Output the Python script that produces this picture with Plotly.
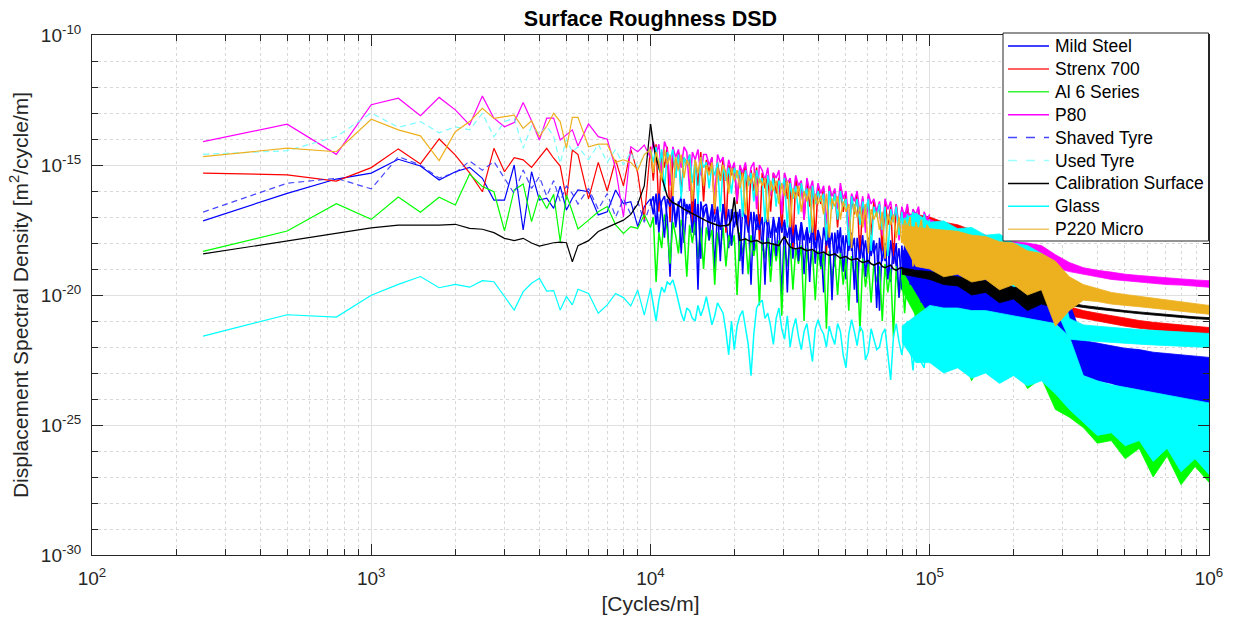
import plotly.graph_objects as go

# ---------------- data: DSD given as log10 values (m^2/cycle/m) ----------------
# low-frequency part (individual spectral lines are readable)
freq_low = [250, 500, 750, 1000, 1250, 1500, 1750, 2000, 2250, 2500, 2750, 3000, 3250, 3500,
            3750, 4000, 4250, 4500, 4750, 5000, 5250, 5500, 6000, 6500, 7000, 7500, 8000,
            8500, 9000, 9500, 10000]
# mid part (1e4 .. 1e5), noisy spectral lines
freq_mid = [10000, 10233, 10471, 10715, 10965, 11220, 11482, 11749, 12023, 12303,
            12589, 12882, 13183, 13490, 13804, 14125, 14454, 14791, 15136, 15488,
            15849, 16218, 16596, 16982, 17378, 17783, 18197, 18621, 19055, 19498,
            19953, 20417, 20893, 21380, 21878, 22387, 22909, 23442, 23988, 24547,
            25119, 25704, 26303, 26915, 27542, 28184, 28840, 29512, 30200, 30903,
            31623, 32359, 33113, 33884, 34674, 35481, 36308, 37154, 38019, 38905,
            39811, 40738, 41687, 42658, 43652, 44668, 45709, 46774, 47863, 48978,
            50119, 51286, 52481, 53703, 54954, 56234, 57544, 58884, 60256, 61660,
            63096, 64565, 66069, 67608, 69183, 70795, 72444, 74131, 75858, 77625,
            79433, 81283, 83176, 85114, 87096, 89125, 91201, 93325, 95499, 97724, 100000]
# dense part (8e4 .. 1e6): upper / lower envelope of the filled band
freq_band = [79433, 89125, 100000, 112202, 125893, 141254, 158489, 177828, 199526, 223872, 251189,
             281838, 316228, 354813, 398107, 446684, 501187, 562341, 630957, 707946, 794328,
             891251, 1000000]

mild_low = [-17.15, -16.09, -15.54, -15.31, -14.78, -15.04, -15.58, -15.26, -15.09, -15.51, -16.35,
            -16.35, -15.0, -17.5, -15.26, -16.35, -16.28, -16.67, -15.81, -16.73, -16.28, -15.96,
            -16.03, -16.92, -16.8, -15.96, -16.48, -16.41, -17.37, -16.6, -16.3]
mild_mid = [-16.3, -16.9, -16.1, -17.6, -16.4, -16.2, -17.0, -19.3, -16.3, -17.4,
            -16.6, -16.2, -18.0, -16.5, -16.9, -16.3, -17.7, -16.4, -18.6, -16.6,
            -16.5, -17.2, -16.6, -19.0, -16.7, -17.5, -16.5, -17.0, -18.2, -16.7,
            -17.4, -16.8, -18.7, -16.7, -17.1, -16.9, -19.6, -16.8, -17.5, -16.9,
            -18.3, -17.0, -17.4, -18.9, -17.0, -17.6, -17.1, -20.1, -17.2, -17.8,
            -17.2, -18.6, -17.3, -17.9, -17.2, -19.2, -17.4, -18.0, -17.3, -18.8,
            -17.5, -17.9, -19.9, -17.4, -18.2, -17.6, -18.9, -17.5, -18.4, -17.7,
            -19.4, -17.6, -18.3, -17.8, -20.3, -17.7, -18.6, -17.9, -19.1, -17.8,
            -18.4, -18.0, -20.6, -17.9, -18.7, -18.1, -19.5, -18.0, -18.9, -18.2,
            -19.8, -18.1, -18.6, -18.3, -20.2, -18.2, -19.0, -18.4, -19.6, -18.3, -18.3]
mild_hi = [-18.3, -18.25, -18.3, -18.55, -18.5, -18.85, -18.8, -19.15, -19.1, -19.55, -19.5, -19.95,
           -20.4, -21.85, -21.95, -22.05, -22.15, -22.2, -22.3, -22.37, -22.44, -22.5, -22.55]
mild_lo = [-18.9, -19.8, -20.3, -21.0, -20.6, -21.4, -22.6, -21.3, -21.9, -21.5, -22.2, -21.9, -22.8,
           -23.1, -23.3, -23.4, -23.6, -23.7, -23.85, -23.95, -24.05, -24.15, -24.25]

strenx_low = [-15.31, -15.38, -15.62, -15.1, -14.38, -14.96, -14.0, -14.62, -15.3, -16.03, -14.36,
              -15.26, -14.72, -14.8, -15.09, -14.7, -14.36, -14.74, -15.04, -16.32, -14.42, -14.6,
              -16.3, -14.9, -16.0, -14.8, -15.8, -14.4, -15.3, -17.1, -14.3]
strenx_mid = [-14.3, -15.6, -14.2, -16.8, -14.5, -15.1, -14.3, -17.2, -14.6, -15.5,
              -14.5, -16.1, -14.7, -15.0, -14.6, -17.3, -14.8, -15.8, -14.5, -16.4,
              -14.8, -15.3, -14.7, -16.9, -14.9, -15.6, -14.8, -17.6, -15.0, -15.4,
              -15.0, -16.5, -15.1, -15.5, -15.0, -17.4, -15.2, -16.0, -15.1, -17.9,
              -15.3, -15.9, -15.4, -16.8, -15.3, -16.1, -15.5, -17.6, -15.4, -16.3,
              -15.6, -18.2, -15.5, -16.2, -15.7, -17.1, -15.6, -16.6, -15.8, -17.9,
              -15.8, -16.5, -15.9, -18.4, -15.8, -16.7, -16.0, -17.4, -15.9, -16.8,
              -16.1, -18.1, -16.2, -16.9, -16.1, -18.6, -16.3, -17.2, -16.2, -17.7,
              -16.4, -16.9, -16.5, -18.3, -16.4, -17.3, -16.6, -18.8, -16.5, -17.4,
              -16.7, -17.9, -16.6, -17.2, -16.8, -18.4, -16.7, -17.5, -16.9, -18.0, -17.0]
strenx_hi = [-17.0, -16.9, -17.0, -17.2, -17.3, -17.5, -17.7, -17.9, -18.1, -18.3, -18.6, -19.0,
             -20.45, -20.6, -20.7, -20.8, -20.9, -20.98, -21.05, -21.1, -21.15, -21.2, -21.25]
strenx_lo = [-17.6, -18.3, -18.8, -18.8, -19.2, -19.1, -19.6, -19.5, -20.3, -20.0, -20.6, -20.4,
             -20.8, -20.9, -21.0, -21.1, -21.2, -21.28, -21.35, -21.42, -21.48, -21.52, -21.58]

al_low = [-18.32, -17.54, -16.49, -17.09, -16.23, -16.82, -16.24, -16.54, -15.35, -15.83, -16.03,
          -17.53, -15.96, -15.73, -17.18, -16.15, -16.67, -16.13, -17.95, -16.15, -16.8, -17.46,
          -17.12, -16.8, -16.6, -17.3, -17.63, -17.37, -17.44, -16.9, -17.4]
al_mid = [-17.4, -17.0, -19.5, -17.6, -18.2, -16.9, -17.5, -18.8, -17.2, -17.7,
          -18.4, -17.1, -17.6, -19.3, -17.3, -18.0, -17.2, -18.6, -17.4, -19.0,
          -17.4, -17.9, -17.5, -19.6, -17.6, -18.3, -17.4, -18.9, -17.7, -18.1,
          -17.7, -20.0, -17.6, -18.4, -17.8, -19.2, -17.7, -18.5, -17.9, -20.4,
          -17.9, -18.6, -17.8, -19.5, -18.0, -18.7, -17.9, -20.8, -18.1, -18.9,
          -18.0, -19.8, -18.2, -18.8, -18.1, -21.0, -18.2, -19.1, -18.3, -20.2,
          -18.3, -19.0, -18.4, -21.3, -18.3, -19.4, -18.5, -20.0, -18.4, -19.6,
          -18.6, -20.6, -18.5, -19.3, -18.7, -21.4, -18.6, -19.7, -18.8, -20.3,
          -18.8, -19.5, -18.9, -21.0, -18.8, -19.9, -19.0, -21.6, -18.9, -20.1,
          -19.0, -20.7, -19.1, -19.6, -19.0, -21.2, -19.2, -20.0, -19.1, -21.5, -19.2]
al_hi = [-19.2, -19.2, -19.3, -19.5, -19.6, -19.8, -20.0, -20.2, -20.4, -20.6, -20.9, -21.2, -21.8,
         -23.2, -23.4, -23.55, -23.65, -23.75, -23.85, -23.95, -24.05, -24.15, -24.25]
al_lo = [-19.8, -20.8, -21.6, -21.2, -22.0, -23.3, -22.3, -23.0, -22.6, -23.6, -23.2, -24.4, -24.7,
         -25.1, -25.7, -25.6, -26.3, -25.9, -27.0, -26.2, -27.3, -26.6, -27.2]

p80_low = [-14.10, -13.43, -14.59, -12.68, -12.43, -13.10, -12.40, -12.88, -13.46, -12.35, -13.2,
           -13.53, -13.37, -12.60, -13.3, -14.04, -13.2, -13.2, -14.04, -13.85, -13.65, -14.27,
           -13.42, -13.91, -14.01, -15.13, -17.0, -14.30, -14.49, -14.23, -14.74]
p80_mid = [-14.74, -14.1, -14.6, -14.2, -15.3, -14.1, -14.4, -15.8, -14.3, -14.7,
           -14.4, -15.1, -14.3, -14.5, -16.0, -14.5, -14.8, -14.4, -15.4, -14.6,
           -14.6, -15.0, -14.7, -16.3, -14.6, -14.9, -14.7, -15.6, -14.8, -15.2,
           -14.9, -16.4, -15.0, -15.3, -14.9, -15.8, -15.1, -14.9, -16.7, -15.0,
           -15.2, -15.6, -15.1, -16.2, -15.3, -15.5, -15.2, -16.9, -15.3, -15.7,
           -15.5, -16.3, -15.4, -15.8, -15.6, -17.1, -15.5, -16.0, -15.6, -16.5,
           -15.7, -16.1, -15.8, -17.3, -15.8, -16.2, -15.9, -16.7, -15.7, -16.3,
           -16.0, -17.4, -16.1, -16.4, -16.0, -16.9, -16.2, -17.6, -16.1, -16.5,
           -16.3, -16.8, -16.4, -17.7, -16.3, -16.7, -16.4, -17.2, -16.5, -17.9,
           -16.6, -17.0, -16.5, -17.5, -16.7, -16.9, -16.6, -18.0, -16.8, -17.1, -16.9]
p80_hi = [-16.8, -16.95, -17.1, -17.3, -17.45, -17.6, -17.75, -17.85, -17.95, -18.0, -18.1, -18.45,
          -18.75, -18.95, -19.05, -19.12, -19.2, -19.25, -19.3, -19.35, -19.38, -19.42, -19.45]
p80_lo = [-17.4, -18.0, -18.4, -18.4, -18.5, -18.55, -18.6, -18.6, -18.65, -18.7, -18.75, -18.95,
          -19.1, -19.2, -19.3, -19.4, -19.45, -19.5, -19.55, -19.6, -19.62, -19.65, -19.7]

shaved_low = [-16.81, -15.70, -15.51, -15.92, -14.68, -15.0, -15.5, -15.3, -14.85, -15.2, -14.87,
              -15.5, -16.1, -15.19, -15.9, -15.45, -16.2, -15.6, -16.4, -15.8, -16.1, -16.5, -15.9,
              -16.7, -16.1, -17.0, -16.3, -16.9, -16.4, -17.2, -16.5]
shaved_mid = [-16.5, -16.2, -17.3, -16.1, -16.7, -17.8, -16.3, -16.6, -16.2, -17.1,
              -16.4, -18.4, -16.3, -16.9, -16.5, -17.6, -16.3, -19.8, -16.4, -17.0,
              -16.6, -17.9, -16.5, -17.2, -16.6, -18.7, -16.5, -17.4, -16.7, -18.1,
              -16.8, -17.3, -16.7, -19.2, -16.9, -17.6, -16.8, -18.3, -16.9, -17.5,
              -17.0, -19.6, -16.9, -17.8, -17.1, -18.5, -17.0, -17.6, -17.1, -19.9,
              -17.2, -18.0, -17.3, -18.7, -17.2, -17.9, -17.4, -19.5, -17.3, -18.2,
              -17.5, -18.9, -17.4, -18.1, -17.5, -20.2, -17.6, -18.4, -17.4, -19.1,
              -17.7, -18.3, -17.6, -19.8, -17.8, -18.6, -17.7, -19.3, -17.8, -18.5,
              -17.9, -20.5, -17.8, -18.7, -18.0, -19.4, -17.9, -18.8, -18.0, -20.1,
              -18.1, -18.9, -18.2, -19.6, -18.1, -19.0, -18.3, -20.3, -18.2, -19.2, -18.3]
shaved_hi = [-18.4, -18.35, -18.4, -18.55, -18.7, -18.85, -19.0, -19.15, -19.3, -19.55, -19.7,
             -19.95, -20.3, -21.75, -21.85, -21.95, -22.05, -22.1, -22.2, -22.25, -22.3, -22.35,
             -22.4]
shaved_lo = [-19.0, -19.9, -20.8, -20.5, -21.2, -20.9, -21.5, -21.2, -21.8, -21.5, -22.1, -21.9,
             -22.3, -22.5, -22.6, -22.7, -22.75, -22.8, -22.85, -22.9, -22.95, -23.0, -23.05]

used_low = [-14.59, -14.45, -13.91, -13.0, -13.55, -13.33, -13.76, -13.53, -13.65, -13.01, -13.91,
            -13.33, -13.2, -14.36, -13.5, -13.8, -13.5, -13.9, -14.94, -14.0, -14.5, -14.3, -14.8,
            -14.2, -14.9, -14.4, -15.0, -14.5, -15.1, -14.6, -14.4]
used_mid = [-14.4, -14.9, -14.3, -15.2, -14.4, -16.0, -14.5, -14.8, -14.4, -15.5,
            -14.6, -16.3, -14.7, -15.0, -14.6, -15.7, -14.8, -16.5, -14.7, -15.1,
            -14.9, -15.9, -15.0, -15.4, -14.9, -16.8, -15.0, -15.6, -15.1, -16.1,
            -15.1, -15.5, -15.2, -17.0, -15.2, -15.8, -15.3, -16.4, -15.2, -15.7,
            -15.5, -17.2, -15.4, -16.0, -15.5, -16.6, -15.6, -15.9, -15.5, -17.4,
            -15.7, -16.3, -15.8, -16.9, -15.7, -16.2, -15.9, -17.6, -15.8, -16.5,
            -16.0, -16.4, -16.1, -17.9, -16.0, -16.7, -16.1, -17.1, -16.0, -16.6,
            -16.3, -18.1, -16.2, -16.8, -16.3, -17.3, -16.4, -16.9, -16.3, -18.3,
            -16.6, -17.0, -16.5, -17.5, -16.6, -18.5, -16.7, -17.2, -16.6, -17.7,
            -16.8, -18.0, -16.9, -17.3, -16.8, -17.8, -17.0, -18.4, -16.9, -17.4, -17.1]
used_hi = [-17.1, -16.85, -17.2, -17.15, -17.45, -17.4, -17.7, -17.65, -18.0, -18.1, -18.4, -18.8,
           -20.9, -21.15, -21.2, -21.25, -21.3, -21.33, -21.36, -21.39, -21.42, -21.45, -21.48]
used_lo = [-17.6, -18.3, -18.7, -18.6, -19.0, -18.9, -19.3, -19.2, -19.7, -19.6, -20.2, -20.5, -21.7,
           -21.75, -21.8, -21.83, -21.86, -21.89, -21.92, -21.95, -21.97, -22.0, -22.02]

calib_low = [-18.42, -17.91, -17.63, -17.42, -17.31, -17.31, -17.31, -17.28, -17.44, -17.47, -17.6,
             -17.82, -17.91, -17.82, -18.0, -18.12, -18.04, -17.99, -17.97, -17.99, -18.72, -18.1,
             -17.91, -17.56, -17.4, -17.24, -17.12, -16.9, -16.5, -15.8, -13.43]
calib_mid = [-13.43, -14.2, -14.7, -15.1, -15.5, -15.9, -16.2, -16.35, -16.45, -16.5,
             -16.55, -16.62, -16.7, -16.76, -16.82, -16.88, -16.94, -17.0, -17.05, -17.1,
             -17.15, -17.2, -17.25, -17.3, -17.32, -17.35, -17.35, -17.33, -17.3, -17.1,
             -16.24, -17.3, -17.9, -17.88, -17.85, -17.9, -17.95, -17.92, -17.9, -17.96,
             -18.02, -18.0, -17.98, -18.02, -18.05, -18.08, -18.1, -17.9, -17.75, -18.0,
             -18.15, -18.2, -18.22, -18.2, -18.18, -18.25, -18.3, -18.27, -18.25, -18.33,
             -18.4, -18.38, -18.35, -18.42, -18.48, -18.45, -18.42, -18.5, -18.58, -18.55,
             -18.52, -18.6, -18.65, -18.62, -18.6, -18.7, -18.75, -18.72, -18.68, -18.8,
             -18.85, -18.8, -18.75, -18.9, -18.95, -18.9, -18.85, -19.0, -19.05, -18.98,
             -18.95, -19.1, -19.15, -19.08, -19.05, -19.2, -19.25, -19.15, -19.1, -19.25, -19.3]
calib_hi = [-18.95, -19.05, -19.1, -19.2, -19.3, -19.4, -19.45, -19.55, -19.7, -19.75, -19.8, -20.0,
            -20.3, -20.4, -20.47, -20.53, -20.6, -20.65, -20.7, -20.75, -20.8, -20.84, -20.87]
calib_lo = [-19.2, -19.3, -19.4, -19.6, -19.65, -20.0, -19.9, -20.3, -20.15, -20.6, -20.35, -20.5,
            -20.4, -20.48, -20.55, -20.6, -20.67, -20.72, -20.77, -20.82, -20.87, -20.91, -20.94]

glass_low = [-21.58, -20.76, -20.85, -20.01, -19.59, -19.29, -19.72, -19.59, -19.70, -19.45, -19.49,
             -20.06, -20.58, -19.87, -19.55, -19.36, -19.85, -19.83, -20.58, -20.06, -20.38, -19.78,
             -19.94, -20.7, -20.38, -19.94, -20.1, -20.42, -19.81, -20.77, -19.74]
glass_mid = [-19.74, -20.4, -21.0, -20.2, -19.7, -19.9, -19.5, -19.6, -19.42, -19.8,
             -20.3, -20.7, -21.0, -20.5, -20.6, -20.9, -21.0, -20.4, -20.8, -20.5,
             -20.06, -20.6, -21.15, -20.8, -20.3, -20.5, -20.7, -21.4, -22.3, -21.0,
             -22.1, -21.2, -20.8, -20.6, -21.3, -21.9, -23.1, -21.5, -20.5, -20.3,
             -20.2, -20.9, -20.7, -21.2, -21.9, -20.9, -20.5, -21.3, -21.7, -20.8,
             -22.0, -21.3, -20.9, -21.6, -22.1, -21.4, -21.1, -21.8, -22.56, -21.3,
             -20.95, -21.3, -21.5, -22.0, -21.2, -21.6, -21.9, -21.1, -21.4, -22.3,
             -22.8, -21.5, -20.95, -21.4, -21.95, -21.2, -21.4, -22.5, -22.2, -21.3,
             -21.7, -22.1, -22.0, -21.5, -21.3, -22.4, -23.27, -21.6, -21.1, -21.8,
             -22.3, -21.5, -21.0, -21.9, -22.9, -21.4, -21.7, -22.6, -22.8, -21.6, -21.0]
glass_hi = [-21.2, -20.8, -20.4, -20.5, -20.5, -20.6, -20.6, -20.7, -20.8, -20.9, -21.0, -21.1, -21.6,
            -23.1, -23.3, -23.45, -23.55, -23.65, -23.75, -23.85, -23.95, -24.05, -24.15]
glass_lo = [-21.8, -22.6, -22.6, -23.0, -22.8, -23.2, -23.0, -23.4, -23.1, -23.5, -23.3, -23.8, -24.4,
            -24.9, -25.4, -25.3, -25.8, -25.6, -26.4, -25.9, -26.8, -26.3, -26.9]

p220_low = [-14.68, -14.35, -14.49, -13.24, -13.65, -13.88, -14.83, -13.72, -13.33, -12.82, -13.21,
            -13.14, -13.08, -13.59, -13.3, -13.91, -13.5, -13.01, -13.33, -14.36, -13.17, -13.17,
            -14.3, -14.2, -14.2, -14.9, -14.8, -14.9, -15.2, -14.6, -14.4]
p220_mid = [-14.4, -15.3, -14.5, -14.9, -15.6, -14.4, -15.0, -14.6, -16.2, -14.7,
            -15.2, -14.6, -15.5, -14.8, -15.1, -16.4, -14.8, -15.3, -14.7, -15.8,
            -15.0, -15.4, -14.9, -16.7, -15.1, -15.6, -15.0, -15.3, -16.1, -15.1,
            -15.6, -15.2, -15.9, -15.3, -16.9, -15.4, -15.7, -15.3, -16.2, -15.5,
            -15.8, -15.5, -17.2, -15.6, -16.0, -15.6, -16.5, -15.7, -16.2, -15.6,
            -17.4, -15.9, -16.3, -15.8, -16.8, -16.0, -16.4, -15.9, -17.6, -16.1,
            -16.5, -16.2, -16.9, -16.1, -17.8, -16.3, -16.6, -16.2, -17.1, -16.4,
            -16.8, -16.5, -18.2, -16.5, -17.0, -16.6, -17.4, -16.5, -18.4, -16.7,
            -17.1, -16.8, -17.5, -16.8, -18.6, -16.9, -17.3, -16.9, -17.8, -17.0,
            -18.0, -17.1, -17.4, -17.0, -18.9, -17.2, -17.6, -17.1, -18.2, -17.3, -17.5]
p220_hi = [-17.3, -17.4, -17.45, -17.5, -17.55, -17.7, -17.75, -17.95, -18.0, -18.3, -18.4, -18.7,
           -19.3, -19.6, -19.75, -19.9, -19.98, -20.05, -20.12, -20.2, -20.27, -20.33, -20.4]
p220_lo = [-17.9, -18.9, -19.0, -19.3, -19.2, -19.5, -19.4, -19.8, -19.6, -20.0, -19.8, -21.2,
           -20.6, -20.2, -20.25, -20.35, -20.4, -20.45, -20.5, -20.55, -20.62, -20.68, -20.74]

names = ["Mild Steel", "Strenx 700", "Al 6 Series", "P80", "Shaved Tyre", "Used Tyre",
         "Calibration Surface", "Glass", "P220 Micro"]

# ---------------- styles: (low line colour, dense colour, legend colour, dash) ----------------
styles = {
    "Mild Steel": ("#0000FF", "#0000FF", "#0000FF", "solid"),
    "Strenx 700": ("#FF0000", "#FF0000", "#FF2B2B", "solid"),
    "Al 6 Series": ("#00FF00", "#00FF00", "#35F535", "solid"),
    "P80": ("#FF00FF", "#FF00FF", "#FF00FF", "solid"),
    "Shaved Tyre": ("rgba(40,40,255,0.85)", "#0000FF", "#4646FF", "6px,4px"),
    "Used Tyre": ("rgba(110,255,255,0.9)", "#00FFFF", "#9CFFFF", "6px,4px"),
    "Calibration Surface": ("#000000", "#000000", "#000000", "solid"),
    "Glass": ("#00FFFF", "#00FFFF", "#00FFFF", "solid"),
    "P220 Micro": ("#EDB120", "#EDB120", "#F0C66A", "solid"),
}
data = {
    "Mild Steel": (mild_low, mild_mid, mild_hi, mild_lo),
    "Strenx 700": (strenx_low, strenx_mid, strenx_hi, strenx_lo),
    "Al 6 Series": (al_low, al_mid, al_hi, al_lo),
    "P80": (p80_low, p80_mid, p80_hi, p80_lo),
    "Shaved Tyre": (shaved_low, shaved_mid, shaved_hi, shaved_lo),
    "Used Tyre": (used_low, used_mid, used_hi, used_lo),
    "Calibration Surface": (calib_low, calib_mid, calib_hi, calib_lo),
    "Glass": (glass_low, glass_mid, glass_hi, glass_lo),
    "P220 Micro": (p220_low, p220_mid, p220_hi, p220_lo),
}

FONT = "Liberation Sans, Arial, Helvetica, sans-serif"
AX = "#262626"
W, H = 1233, 624
ML, MR, MT, MB = 92, 24, 35, 69
PW, PH = W - ML - MR, H - MT - MB


def p2x(px):
    return (px - ML) / PW


def p2y(py):
    return (H - MB - py) / PH


fig = go.Figure()
for name in names:
    lcol, fcol, _, dash = styles[name]
    low, mid, hi, lo = data[name]
    fig.add_trace(go.Scatter(x=freq_low, y=[10 ** v for v in low], mode="lines", name=name,
                             line=dict(color=lcol, width=1.2, dash=dash), showlegend=False,
                             hoverinfo="skip"))
    fig.add_trace(go.Scatter(x=freq_band + freq_band[::-1],
                             y=[10 ** v for v in hi] + [10 ** v for v in lo[::-1]],
                             mode="lines", fill="toself", fillcolor=fcol, name=name,
                             line=dict(color=fcol, width=0.8), showlegend=False,
                             hoverinfo="skip"))
    fig.add_trace(go.Scatter(x=freq_mid, y=[10 ** v for v in mid], mode="lines", name=name,
                             line=dict(color=fcol, width=1.5), showlegend=False,
                             hoverinfo="skip"))

# ---------------- legend box (drawn like the MATLAB legend) ----------------
shapes = [dict(type="rect", xref="paper", yref="paper", x0=p2x(1003), x1=p2x(1208.5),
               y0=p2y(241), y1=p2y(33), line=dict(color=AX, width=1), fillcolor="white",
               layer="above")]
annotations = []
for i, name in enumerate(names):
    yc = 46 + 22.9 * i
    _, _, legcol, dash = styles[name]
    shapes.append(dict(type="line", xref="paper", yref="paper", x0=p2x(1008), x1=p2x(1049),
                       y0=p2y(yc), y1=p2y(yc), line=dict(color=legcol, width=1.5,
                       dash="dash" if dash != "solid" else "solid"), layer="above"))
    annotations.append(dict(text=name, xref="paper", yref="paper", x=p2x(1053), y=p2y(yc),
                            xanchor="left", yanchor="middle", showarrow=False,
                            font=dict(family=FONT, size=17.5, color="#000000")))

x_major = [1e2, 1e3, 1e4, 1e5, 1e6]
x_text = ["10<sup>%d</sup>" % e for e in range(2, 7)]
x_minor = [m * 10 ** e for e in range(2, 6) for m in range(2, 10)]
y_major = [10.0 ** e for e in (-30, -25, -20, -15, -10)]
y_text = ["10<sup>%d</sup>" % e for e in (-30, -25, -20, -15, -10)]
y_minor = [10.0 ** e for e in range(-29, -10) if e % 5 != 0]

fig.update_layout(
    width=W, height=H,
    margin=dict(l=ML, r=MR, t=MT, b=MB),
    paper_bgcolor="white", plot_bgcolor="white",
    font=dict(family=FONT, color=AX, size=19),
    hovermode=False, showlegend=False,
    shapes=shapes, annotations=annotations,
    title=dict(text="<b>Surface Roughness DSD</b>", x=0.5, xref="paper", xanchor="center",
               y=1 - 18 / H, yref="container", yanchor="middle",
               font=dict(family=FONT, size=21.5, color="#000000")),
)
fig.update_xaxes(
    type="log", range=[2, 6], showline=True, linecolor=AX, linewidth=1, mirror="allticks",
    ticks="inside", ticklen=11, tickwidth=1, tickcolor=AX, automargin=False,
    tickmode="array", tickvals=x_major, ticktext=x_text, ticklabelstandoff=6,
    showgrid=True, gridcolor="#E0E0E0", gridwidth=1, zeroline=False,
    minor=dict(tickmode="array", tickvals=x_minor, ticks="inside", ticklen=6, tickcolor=AX,
               showgrid=True, gridcolor="#D8D8D8", griddash="dot", gridwidth=1),
    title=dict(text="[Cycles/m]", font=dict(family=FONT, size=21, color=AX), standoff=8),
)
fig.update_yaxes(
    type="log", range=[-30, -10], showline=True, linecolor=AX, linewidth=1, mirror="allticks",
    ticks="inside", ticklen=11, tickwidth=1, tickcolor=AX, automargin=False,
    tickmode="array", tickvals=y_major, ticktext=y_text, ticklabelstandoff=6,
    showgrid=True, gridcolor="#E0E0E0", gridwidth=1, zeroline=False,
    minor=dict(tickmode="array", tickvals=y_minor, ticks="inside", ticklen=6, tickcolor=AX,
               showgrid=True, gridcolor="#D8D8D8", griddash="dot", gridwidth=1),
    title=dict(text="Displacement Spectral Density [m<sup>2</sup>/cycle/m]",
               font=dict(family=FONT, size=21, color=AX), standoff=6),
)

fig.write_html("out.html", config={"displayModeBar": False},
               post_script="document.body.style.margin='0px';")
